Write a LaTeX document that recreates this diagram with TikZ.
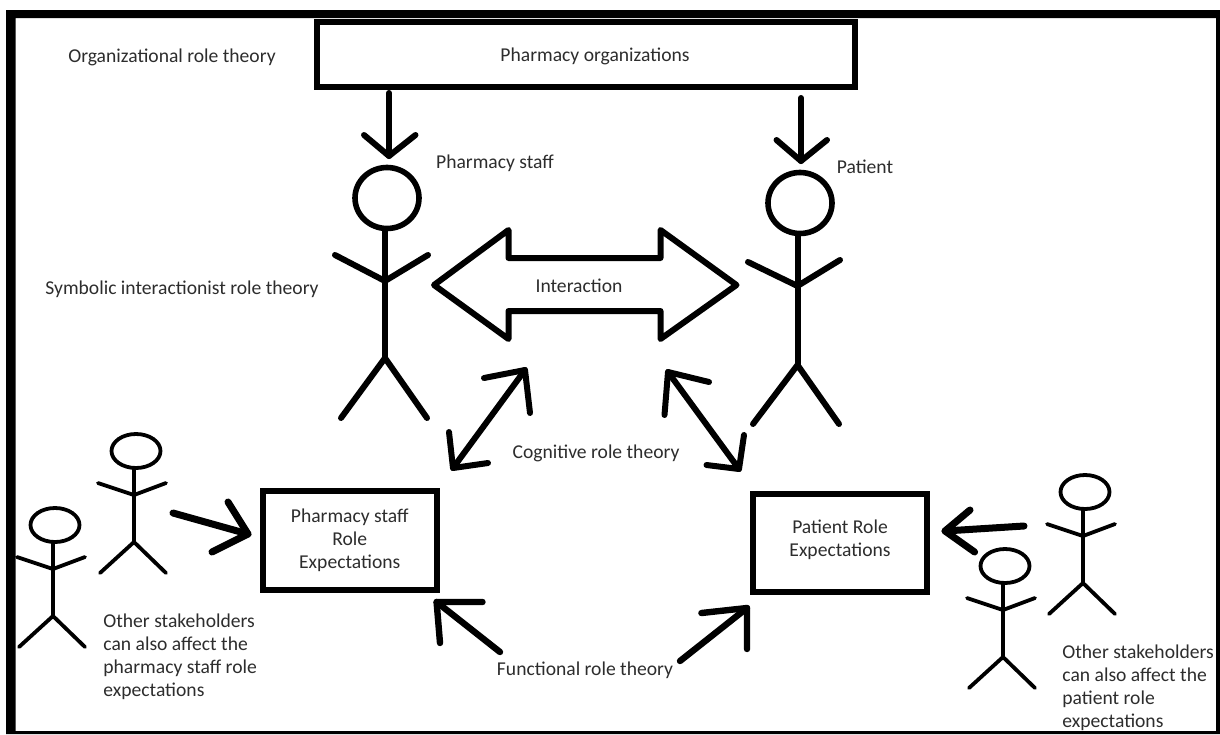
\documentclass[tikz,border=0pt]{standalone}
\usepackage{fontspec}
\setmainfont{Carlito}
\usetikzlibrary{shapes.geometric}
\definecolor{labelgray}{RGB}{45,45,45}
\tikzset{
    rolebox/.style={draw, line width=3pt, align=center, inner sep=0pt, text=labelgray},
    bigline/.style={line width=3pt, line cap=round, line join=round},
    smallline/.style={line width=1.9pt, line cap=round, line join=round},
    bighead/.style={draw, ellipse, line width=2.8pt, inner sep=0pt, minimum width=32pt, minimum height=30.5pt},
    smallhead/.style={draw, ellipse, line width=1.9pt, inner sep=0pt, minimum width=24.5pt, minimum height=17pt},
    theorytext/.style={text=labelgray, inner sep=0pt},
    sidetext/.style={text=labelgray, inner sep=0pt, align=left, anchor=west}
}

\begin{document}
\begin{tikzpicture}[x=0.5pt, y=-0.5pt, font=\fontsize{9.8}{11.5}\selectfont]
    \useasboundingbox (0,0) rectangle (1220,734);
    \fill[white] (0,0) rectangle (1220,734);

    % Marco
    \fill[black, even odd rule] (6,10) rectangle (1220,734) (15.5,18) rectangle (1216,731);

    % Cajas
    \node[rolebox, minimum width=269.25pt, minimum height=32.5pt] (orgbox) at (586,54.5) {};
    \node[theorytext] (orgtext) at (595,56) {Pharmacy organizations};
    \node[rolebox, minimum width=87.25pt, minimum height=49.25pt] (staffbox) at (349.75,540.25)
        {Pharmacy staff\\Role\\Expectations};
    \node[rolebox, minimum width=87pt, minimum height=49pt] (patientbox) at (840,543)
        {Patient Role\\Expectations\\[-6.5pt]};

    % Figuras grandes
    \node[bighead] (staffhead) at (387,198) {};
    \coordinate (staffneck) at (385,231);
    \coordinate (staffhip) at (385,358);
    \draw[bigline] (staffneck) -- (staffhip);
    \draw[bigline] (335,255) -- (385,281) -- (428,255);
    \draw[bigline] (341,418) -- (staffhip) -- (427,418);

    \node[bighead] (patienthead) at (800,203) {};
    \coordinate (patientneck) at (797.5,235);
    \coordinate (patienthip) at (797.5,365);
    \draw[bigline] (patientneck) -- (patienthip);
    \draw[bigline] (748,262) -- (797.5,286) -- (840,260);
    \draw[bigline] (753,424) -- (patienthip) -- (839,424);

    % Figuras chicas
    \foreach \i/\x/\y in {a/134/451, b/53/525, c/1083/492, d/1003/566} {
        \begin{scope}[shift={(\x,\y)}]
            \node[smallhead] (smallhead\i) at (2,0) {};
            \draw[smallline] (0,18) -- (0,91);
            \draw[smallline] (-36,32) -- (0,44) -- (32,32);
            \draw[smallline] (-34,122) -- (0,91) -- (32,122);
        \end{scope}
    }

    % Flecha de interaccion
    \draw[line width=3pt, line join=round] (434,285) -- (508.5,230) -- (508.5,258) -- (660.5,258)
        -- (660.5,230) -- (736.5,285) -- (660.5,339) -- (660.5,311) -- (508.5,311) -- (508.5,339) -- cycle;
    \node[theorytext] (interaction) at (579,286) {Interaction};

    % Flechas simples
    \foreach \i/\w/\tx/\ty/\hx/\hy/\ax/\ay/\bx/\by in {
        a/3/389/93/389/156/364/135/415.5/135,
        b/3/801/98/801/161/776.5/140/827/140,
        c/3.5/173/513/248/534/228/502/212/552,
        d/3.5/1024/526/945/531/970/510/974.6/552,
        e/3.2/500/652/436.6/602/482.5/602/440/643,
        f/3.2/680/661/747/608/701.4/613/747/649} {
        \coordinate (tail\i) at (\tx,\ty);
        \coordinate (tip\i) at (\hx,\hy);
        \draw[bigline, line width=\w pt] (tail\i) -- (tip\i);
        \draw[bigline, line width=\w pt] (\ax,\ay) -- (tip\i) -- (\bx,\by);
    }

    % Flechas dobles
    \coordinate (cogleftup) at (525,370);
    \coordinate (cogleftdown) at (453,468);
    \draw[bigline] (cogleftup) -- (cogleftdown);
    \draw[bigline] (484,378) -- (cogleftup) -- (530,413);
    \draw[bigline] (449,432) -- (cogleftdown) -- (488,463);

    \coordinate (cogrightup) at (668,372);
    \coordinate (cogrightdown) at (739,469);
    \draw[bigline] (cogrightup) -- (cogrightdown);
    \draw[bigline] (709,382) -- (cogrightup) -- (664.5,415);
    \draw[bigline] (744,435) -- (cogrightdown) -- (706.5,465);

    % Textos
    \node[theorytext] (orgtheory) at (172,57) {Organizational role theory};
    \node[theorytext] (staffname) at (495,163) {Pharmacy staff};
    \node[theorytext] (patientname) at (865,167) {Patient};
    \node[theorytext] (symbolic) at (182,289) {Symbolic interactionist role theory};
    \node[theorytext] (cognitive) at (596,453) {Cognitive role theory};
    \node[theorytext] (functional) at (585,670) {Functional role theory};
    \node[sidetext] (staffother) at (103,656.5)
        {Other stakeholders\\can also affect the\\pharmacy staff role\\expectations};
    \node[sidetext] (patientother) at (1062,687.5)
        {Other stakeholders\\can also affect the\\patient role\\expectations};
\end{tikzpicture}
\end{document}
